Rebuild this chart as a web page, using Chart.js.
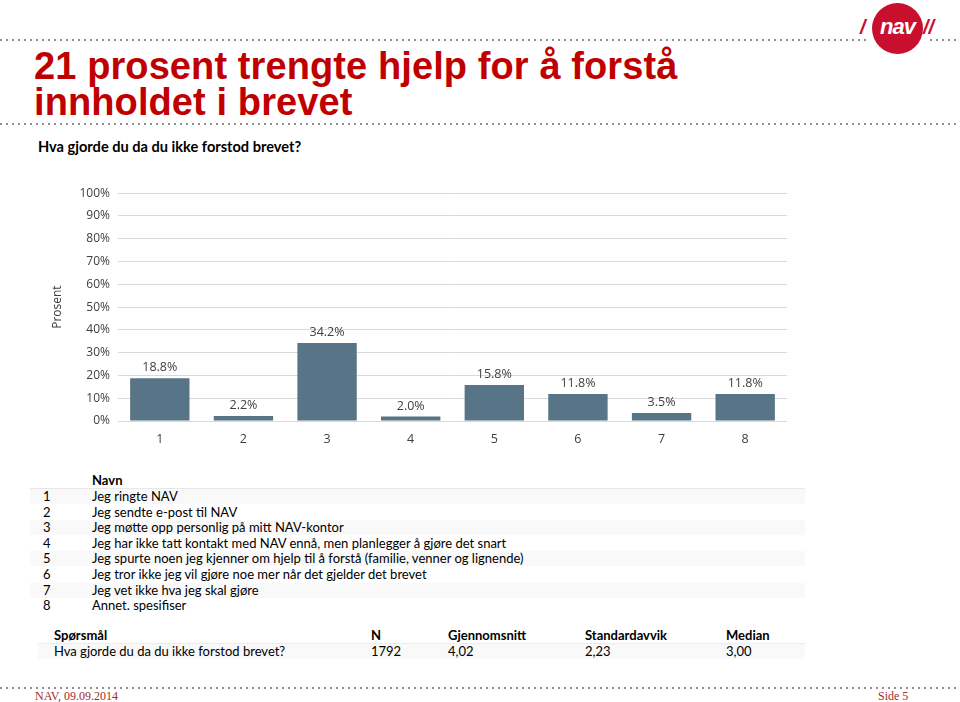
<!DOCTYPE html>
<html lang="no">
<head>
<meta charset="utf-8">
<title>21 prosent trengte hjelp for å forstå innholdet i brevet</title>
<script src="https://cdn.jsdelivr.net/npm/chart.js@4.4.1/dist/chart.umd.min.js"></script>
<style>
    html, body { margin: 0; padding: 0; background: #fff; }
    body { width: 960px; height: 702px; position: relative; overflow: hidden; font-family: Lato, "Open Sans", sans-serif; color: #000; }
    .dots { position: absolute; left: 0; height: 2px; background: repeating-linear-gradient(to right, #8f8f8f 0 2px, transparent 2px 6px); }
    h1 { position: absolute; left: 34px; top: 48px; margin: 0; font: bold 38px/36px "Liberation Sans", Arial, sans-serif; color: #c00000; letter-spacing: 0.1px; }
    .sub { position: absolute; left: 38px; top: 138px; font: bold 14.6px Lato, sans-serif; }
    .logo { position: absolute; left: 872px; top: 3px; width: 51px; height: 51px; border-radius: 50%; background: #c8102e; }
    .logo span { position: absolute; left: 0; right: 0; top: 10px; text-align: center; color: #fff; font: italic 900 22px/28px "Liberation Sans", Arial, sans-serif; letter-spacing: -1px; }
    .slash { position: absolute; top: 17px; color: #c8102e; font: italic 900 20px/20px "Liberation Sans", Arial, sans-serif; }
    #chartWrap { position: absolute; left: 40px; top: 178px; width: 760px; height: 272px; }
    .row { position: absolute; height: 15px; line-height: 15px; white-space: nowrap; font-size: 13px; }
    .foot { position: absolute; top: 689px; font: 12px "Liberation Serif", "Times New Roman", serif; color: #a52a2a; }
</style>
</head>
<body>
<div class="dots" style="top:39px; width:866px;"></div>
<div class="dots" style="top:39px; left:930px; width:30px;"></div>
<div class="logo"><span>nav</span></div>
<div class="slash" style="left:860px;">/</div>
<div class="slash" style="left:923px;">//</div>

<h1>21 prosent trengte hjelp for å forstå<br>innholdet i brevet</h1>
<div class="dots" style="top:123px; width:960px;"></div>
<div class="sub">Hva gjorde du da du ikke forstod brevet?</div>

<div id="chartWrap"><canvas id="mainChart"></canvas></div>

<div id="navn"></div>
<div id="stats"></div>

<div class="dots" style="top:687px; width:960px;"></div>
<div class="foot" style="left:35px;">NAV, 09.09.2014</div>
<div class="foot" style="left:878px;">Side 5</div>

<script>
// Data
const kategorier = ['1', '2', '3', '4', '5', '6', '7', '8'];
const prosent = [18.8, 2.2, 34.2, 2.0, 15.8, 11.8, 3.5, 11.8];
const yTicks = [0, 10, 20, 30, 40, 50, 60, 70, 80, 90, 100];
const navn = [
    'Jeg ringte NAV',
    'Jeg sendte e-post til NAV',
    'Jeg møtte opp personlig på mitt NAV-kontor',
    'Jeg har ikke tatt kontakt med NAV ennå, men planlegger å gjøre det snart',
    'Jeg spurte noen jeg kjenner om hjelp til å forstå (familie, venner og lignende)',
    'Jeg tror ikke jeg vil gjøre noe mer når det gjelder det brevet',
    'Jeg vet ikke hva jeg skal gjøre',
    'Annet. spesifiser'
];
const statsHeader = ['Spørsmål', 'N', 'Gjennomsnitt', 'Standardavvik', 'Median'];
const statsRow = ['Hva gjorde du da du ikke forstod brevet?', '1792', '4,02', '2,23', '3,00'];

document.addEventListener('DOMContentLoaded', () => {
    renderizarGrafico();
    renderizarNavn();
    renderizarStats();
});

// Etiketter over søylene
const verdiEtiketter = {
    id: 'verdiEtiketter',
    afterDatasetsDraw(chart) {
        const ctx = chart.ctx;
        const meta = chart.getDatasetMeta(0);
        ctx.save();
        ctx.font = '12.5px "Open Sans", sans-serif';
        ctx.fillStyle = '#404040';
        ctx.textAlign = 'center';
        ctx.textBaseline = 'bottom';
        meta.data.forEach((bar, i) => {
            ctx.fillText(prosent[i].toFixed(1) + '%', bar.x, bar.y - 4);
        });
        ctx.restore();
    }
};

function renderizarGrafico() {
    const ctx = document.getElementById('mainChart');
    new Chart(ctx, {
        type: 'bar',
        data: {
            labels: kategorier,
            datasets: [{
                data: prosent,
                backgroundColor: '#587487',
                barPercentage: 0.71,
                categoryPercentage: 1.0
            }]
        },
        options: {
            responsive: true, maintainAspectRatio: false,
            animation: false,
            layout: { padding: { left: 6, right: 13, top: 12, bottom: 0 } },
            plugins: { legend: { display: false }, tooltip: { enabled: false } },
            scales: {
                x: {
                    grid: { display: false, drawTicks: false },
                    border: { display: false },
                    ticks: { color: '#404040', font: { family: '"Open Sans", sans-serif', size: 12.5 }, padding: 11 },
                    afterFit: s => { s.height = 29; }
                },
                y: {
                    min: 0, max: 100,
                    afterBuildTicks: s => { s.ticks = yTicks.map(v => ({ value: v })); },
                    grid: { color: '#d9d9d9', lineWidth: 1, drawTicks: false },
                    border: { display: false },
                    ticks: { color: '#404040', font: { family: '"Open Sans", sans-serif', size: 12 }, padding: 8, callback: v => v + '%' },
                    title: { display: true, text: 'Prosent', color: '#404040', font: { family: '"Open Sans", sans-serif', size: 12 }, padding: 4 },
                    afterFit: s => { s.width = 72; }
                }
            }
        },
        plugins: [verdiEtiketter]
    });
}

function renderizarNavn() {
    const el = document.getElementById('navn');
    let html = `<div class="row" style="left:92px; top:473px; font-weight:bold;">Navn</div>
        <div style="position:absolute; left:30px; top:488px; width:775px; height:1px; background:#e8e8e8;"></div>`;
    navn.forEach((tekst, i) => {
        const top = 489 + i * 15.6;
        const bg = i % 2 === 0 ? 'background:#f9f9f9;' : '';
        html += `
            <div class="row" style="left:30px; width:775px; top:${top}px; ${bg}"></div>
            <div class="row" style="left:43px; top:${top}px;">${i + 1}</div>
            <div class="row" style="left:92px; top:${top}px;">${tekst}</div>
        `;
    });
    el.innerHTML = html;
}

function renderizarStats() {
    const el = document.getElementById('stats');
    const xs = [54, 371, 448, 585, 726];
    let html = `<div style="position:absolute; left:38px; top:643px; width:767px; height:1px; background:#ececec;"></div>
        <div style="position:absolute; left:38px; top:644px; width:767px; height:15px; background:#f9f9f9;"></div>`;
    statsHeader.forEach((t, i) => {
        html += `<div class="row" style="left:${xs[i]}px; top:628px; font-weight:bold;">${t}</div>`;
    });
    statsRow.forEach((t, i) => {
        html += `<div class="row" style="left:${xs[i]}px; top:644px;">${t}</div>`;
    });
    el.innerHTML = html;
}
</script>
</body>
</html>
